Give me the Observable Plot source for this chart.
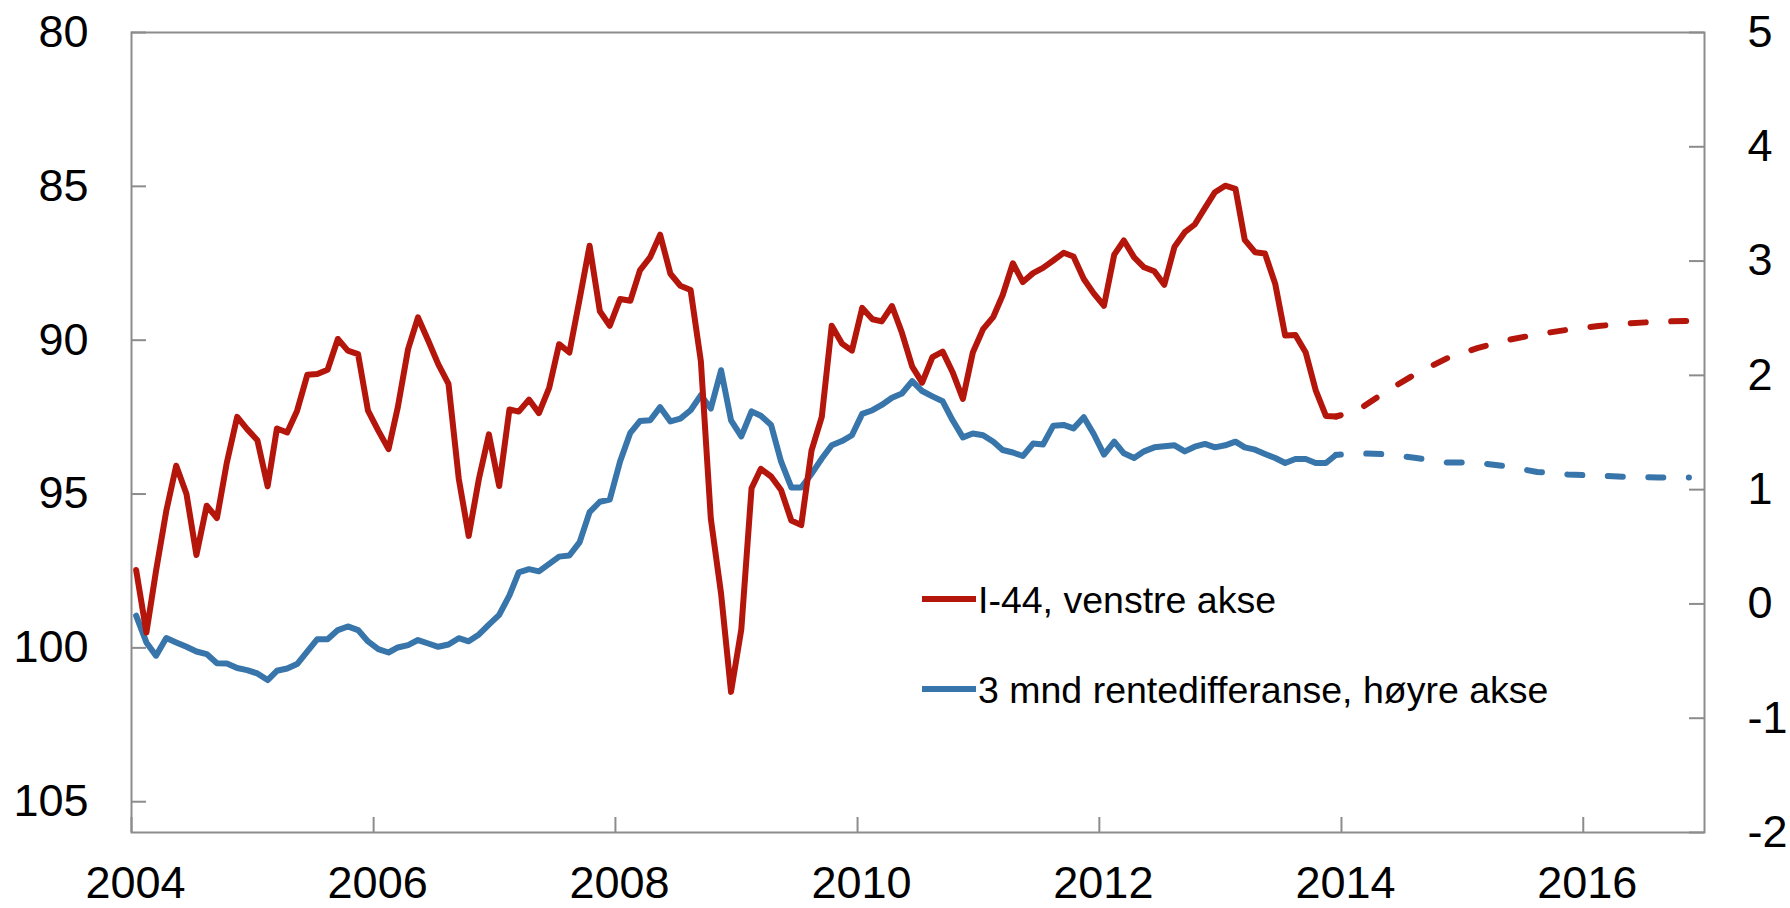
<!DOCTYPE html>
<html>
<head>
<meta charset="utf-8">
<script src="https://cdn.jsdelivr.net/npm/d3@7"></script>
<script src="https://cdn.jsdelivr.net/npm/@observablehq/plot@0.6"></script>
<style>
  html, body { margin: 0; padding: 0; background: #ffffff; }
  #chart svg { display: block; background: #ffffff; overflow: visible; }
</style>
</head>
<body>
<div id="chart"></div>
<script>
// ---- Data (monthly, Jan 2004 – Dec 2013) ----
const startYear = 2004;
const i44 = [
  97.47, 99.50, 97.50, 95.55, 94.08, 95.00, 96.98, 95.38, 95.78, 93.97, 92.49, 92.89,
  93.25, 94.75, 92.87, 93.00, 92.29, 91.12, 91.10, 90.96, 89.96, 90.34, 90.45, 92.29,
  92.94, 93.54, 92.18, 90.29, 89.26, 90.02, 90.78, 91.42, 94.50, 96.36, 94.50, 93.06,
  94.74, 92.25, 92.32, 91.93, 92.37, 91.55, 90.13, 90.40, 88.66, 86.93, 89.06, 89.53,
  88.66, 88.72, 87.73, 87.30, 86.57, 87.84, 88.23, 88.37, 90.69, 95.80, 98.24, 101.43,
  99.40, 94.81, 94.18, 94.43, 94.87, 95.86, 96.01, 93.59, 92.49, 89.53, 90.11, 90.34,
  88.95, 89.32, 89.39, 88.89, 89.76, 90.86, 91.38, 90.55, 90.37, 91.04, 91.91, 90.40,
  89.64, 89.24, 88.54, 87.50, 88.11, 87.82, 87.65, 87.41, 87.16, 87.28, 88.01, 88.48,
  88.88, 87.22, 86.76, 87.31, 87.63, 87.76, 88.20, 86.96, 86.49, 86.24, 85.70, 85.19,
  84.98, 85.08, 86.74, 87.14, 87.18, 88.17, 89.85, 89.83, 90.40, 91.62, 92.46, 92.48
];
const rentediff = [
  -0.103, -0.337, -0.453, -0.299, -0.337, -0.375, -0.416, -0.439, -0.518, -0.521, -0.561, -0.579,
  -0.608, -0.666, -0.585, -0.565, -0.526, -0.416, -0.308, -0.308, -0.229, -0.197, -0.229, -0.328,
  -0.395, -0.425, -0.381, -0.360, -0.316, -0.346, -0.375, -0.355, -0.300, -0.327, -0.267, -0.181,
  -0.096, 0.074, 0.277, 0.304, 0.285, 0.351, 0.414, 0.424, 0.541, 0.803, 0.894, 0.913,
  1.247, 1.497, 1.600, 1.607, 1.722, 1.597, 1.622, 1.695, 1.826, 1.710, 2.045, 1.607,
  1.466, 1.685, 1.647, 1.566, 1.247, 1.019, 1.019, 1.138, 1.272, 1.388, 1.425, 1.476,
  1.663, 1.695, 1.741, 1.804, 1.841, 1.950, 1.863, 1.816, 1.773, 1.607, 1.457, 1.491,
  1.476, 1.419, 1.347, 1.325, 1.294, 1.403, 1.395, 1.560, 1.566, 1.536, 1.633, 1.487,
  1.306, 1.420, 1.318, 1.277, 1.335, 1.370, 1.379, 1.388, 1.335, 1.376, 1.400, 1.370,
  1.388, 1.420, 1.370, 1.350, 1.312, 1.277, 1.233, 1.268, 1.268, 1.233, 1.233, 1.303
];

// ---- Forecast (last observation, then quarterly, mid-quarter) ----
const forecastMonths = ["2013-12", "2014-02", "2014-05", "2014-08", "2014-11",
  "2015-02", "2015-05", "2015-08", "2015-11", "2016-02", "2016-05", "2016-08", "2016-11"];
const i44Forecast = [92.48, 92.31, 91.67, 91.08, 90.59, 90.26, 90.00, 89.81, 89.66, 89.54, 89.45, 89.40, 89.37];
const rentediffForecast = [1.303, 1.318, 1.310, 1.277, 1.238, 1.236, 1.203, 1.155, 1.133, 1.122, 1.111, 1.107, 1.107];

// ---- Axes ----
const leftTicks = [80, 85, 90, 95, 100, 105];
const rightTicks = [-2, -1, 0, 1, 2, 3, 4, 5];
const xTickYears = [2004, 2006, 2008, 2010, 2012, 2014, 2016];
const legendLabels = ["I-44, venstre akse", "3 mnd rentedifferanse, høyre akse"];

const RED = "#B5160C";
const BLUE = "#3775AA";
const GREY = "#8c8c8c";

// right axis (-2..5) mapped onto left axis units (106..80, inverted)
const leftMin = 80, leftMax = 106, rightMin = -2, rightMax = 5;
const toLeft = r => leftMin + (rightMax - r) * (leftMax - leftMin) / (rightMax - rightMin);
const fromLeft = v => rightMax - (v - leftMin) * (rightMax - rightMin) / (leftMax - leftMin);

const monthDate = i => new Date(Date.UTC(startYear, i, 15));
const parseMonth = s => { const [y, m] = s.split("-").map(Number); return new Date(Date.UTC(y, m - 1, 15)); };

const redHist = i44.map((v, i) => ({date: monthDate(i), value: v}));
const blueHist = rentediff.map((v, i) => ({date: monthDate(i), value: toLeft(v)}));
const redFc = i44Forecast.map((v, i) => ({date: parseMonth(forecastMonths[i]), value: v}));
const blueFc = rentediffForecast.map((v, i) => ({date: parseMonth(forecastMonths[i]), value: toLeft(v)}));

const xTickDates = xTickYears.map(y => new Date(Date.UTC(y, 0, 1)));

const W = 1790, H = 908, mL = 131, mR = 86, mT = 32, mB = 76;
const plotW = W - mL - mR, plotH = H - mT - mB;
const FONT = "'Liberation Sans', Arial, Helvetica, sans-serif";
const LW = 6;

const chart = Plot.plot({
  width: W,
  height: H,
  marginLeft: mL,
  marginRight: mR,
  marginTop: mT,
  marginBottom: mB,
  style: {fontFamily: FONT, background: "#ffffff", color: "#000000"},
  x: {type: "utc", domain: [new Date(Date.UTC(2004, 0, 1)), new Date(Date.UTC(2017, 0, 1))], label: null},
  y: {domain: [leftMin, leftMax], reverse: true, label: null},
  marks: [
    // inward tick marks
    Plot.tickY(leftTicks, {stroke: GREY, strokeWidth: 2, insetRight: plotW - 15}),
    Plot.tickY(rightTicks.map(toLeft), {stroke: GREY, strokeWidth: 2, insetLeft: plotW - 15}),
    Plot.tickX(xTickDates, {stroke: GREY, strokeWidth: 2, insetTop: plotH - 15}),
    Plot.frame({stroke: GREY, strokeWidth: 2}),
    // axis labels
    Plot.axisY(leftTicks, {anchor: "left", tickSize: 0, tickPadding: 43, fontSize: 45, label: null,
      tickFormat: d => String(d), fill: "#000"}),
    Plot.axisY(rightTicks.map(toLeft), {anchor: "right", tickSize: 0, tickPadding: 43, fontSize: 45, label: null,
      tickFormat: v => String(Math.round(fromLeft(v))), fill: "#000"}),
    Plot.axisX(xTickDates, {anchor: "bottom", tickSize: 0, tickPadding: 34, fontSize: 45, label: null,
      dx: 4, tickFormat: d => String(d.getUTCFullYear()), fill: "#000"}),
    // series
    Plot.line(blueFc, {x: "date", y: "value", stroke: BLUE, strokeWidth: LW,
      strokeDasharray: "15,25.5", strokeDashoffset: 10, strokeLinecap: "round", strokeLinejoin: "round"}),
    Plot.line(redFc, {x: "date", y: "value", stroke: RED, strokeWidth: LW,
      strokeDasharray: "15,25.5", strokeDashoffset: 10, strokeLinecap: "round", strokeLinejoin: "round"}),
    Plot.line(blueHist, {x: "date", y: "value", stroke: BLUE, strokeWidth: LW, strokeLinejoin: "round", strokeLinecap: "round"}),
    Plot.line(redHist, {x: "date", y: "value", stroke: RED, strokeWidth: LW, strokeLinejoin: "round", strokeLinecap: "round"})
  ]
});

document.getElementById("chart").appendChild(chart);

// ---- Legend inside the plot area ----
const svg = d3.select(chart);
const legend = svg.append("g").attr("class", "legend").attr("text-anchor", "start");
const legendColors = [RED, BLUE];
const legendY = [599, 689];
legendLabels.forEach((label, i) => {
  legend.append("line")
    .attr("x1", 922).attr("x2", 976)
    .attr("y1", legendY[i]).attr("y2", legendY[i])
    .attr("stroke", legendColors[i]).attr("stroke-width", LW);
  legend.append("text")
    .attr("x", 978).attr("y", legendY[i] + 13.5)
    .attr("text-anchor", "start")
    .attr("font-family", FONT).attr("font-size", 37.5).attr("fill", "#000")
    .text(label);
});
</script>
</body>
</html>
